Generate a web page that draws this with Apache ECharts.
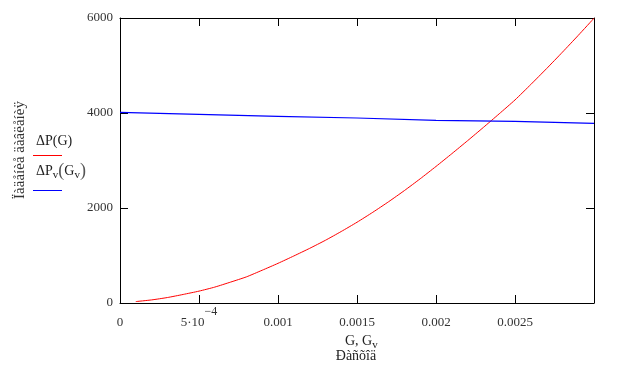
<!DOCTYPE html>
<html>
<head>
<meta charset="utf-8">
<script src="https://cdn.jsdelivr.net/npm/echarts@6/dist/echarts.min.js"></script>
<style>html,body{margin:0;padding:0;background:#fff}#c{width:628px;height:369px}</style>
</head>
<body>
<div id="c"></div>
<script>
// Flow G (x) and pressure drop values
var gRed = [0.0001,0.0002,0.0003,0.0004,0.0005,0.0006,0.0007,0.0008,0.0009,0.001,0.0011,0.0012,0.0013,0.0014,0.0015,0.0016,0.0017,0.0018,0.0019,0.002,0.0021,0.0022,0.0023,0.0024,0.0025,0.0026,0.0027,0.0028,0.0029,0.003];
var dP = [30,65,115,180,250,335,440,550,690,835,990,1150,1320,1505,1700,1910,2132,2367,2615,2875,3143,3417,3697,3983,4275,4600,4935,5280,5633,5995];
var gBlue = [0,0.0005,0.001,0.0015,0.002,0.0025,0.003];
var dPv = [4015,3973,3931,3895,3846,3825,3783];
var xTickLabels = ['0','5·10^-4','0.001','0.0015','0.002','0.0025',''];
var yTickLabels = ['0','2000','4000','6000'];

var FONT = '"Liberation Serif", "DejaVu Serif", serif';
var chart = echarts.init(document.getElementById('c'), null, {renderer:'canvas'});
function pairs(xs, ys){ return xs.map(function(x,i){return [x, ys[i]];}); }
var axisLine = {show:true, onZero:false, lineStyle:{color:'#000', width:1}};
var tick = {show:true, inside:true, length:8, lineStyle:{color:'#000', width:1}};
chart.setOption({
  animation:false,
  grid:{left:120, right:34, top:18, bottom:66},
  xAxis:[{
    type:'value', min:0, max:0.003, interval:0.0005, position:'bottom',
    axisLine:axisLine, axisTick:tick, splitLine:{show:false},
    axisLabel:{
      margin:3,
      formatter:function(v){
        var i = Math.round(v/0.0005);
        var s = xTickLabels[i] || '';
        if (s.indexOf('^') >= 0) { var p = s.split('^'); return '{a|' + p[0] + '}{sup|' + p[1].replace('-','\u2212') + '}'; }
        return '{a|' + s + '}';
      },
      rich:{
        a:{fontFamily:FONT, fontSize:13, color:'#333', lineHeight:23, verticalAlign:'bottom'},
        sup:{fontFamily:FONT, fontSize:12, color:'#333', lineHeight:23, verticalAlign:'top'}
      }
    }
  },{
    type:'value', min:0, max:0.003, interval:0.0005, position:'top',
    axisLine:axisLine, axisTick:tick, axisLabel:{show:false}, splitLine:{show:false}
  }],
  yAxis:[{
    type:'value', min:0, max:6000, interval:2000, position:'left',
    axisLine:axisLine, axisTick:tick, splitLine:{show:false},
    axisLabel:{margin:7, color:'#333', fontFamily:FONT, fontSize:13,
      formatter:function(v){ return yTickLabels[Math.round(v/2000)]; }}
  },{
    type:'value', min:0, max:6000, interval:2000, position:'right',
    axisLine:axisLine, axisTick:tick, axisLabel:{show:false}, splitLine:{show:false}
  }],
  series:[{
    name:'ΔP(G)', type:'line', data:pairs(gRed, dP), showSymbol:false, smooth:0.2,
    lineStyle:{color:'#ff0000', width:1}, itemStyle:{color:'#ff0000'}
  },{
    name:'ΔPv(Gv)', type:'line', data:pairs(gBlue, dPv), showSymbol:false,
    lineStyle:{color:'#0000ff', width:1.2}, itemStyle:{color:'#0000ff'}
  }],
  graphic:[
    {type:'text', x:20, y:150, rotation:Math.PI/2, style:{text:'Ïàäåíèå äàâëåíèÿ', font:'15px '+FONT, fill:'#333', align:'center', verticalAlign:'middle'}},
    {type:'text', x:36, y:134, style:{text:'ΔP(G)', font:'14px '+FONT, fill:'#222'}},
    {type:'line', shape:{x1:33, y1:155.5, x2:62, y2:155.5}, style:{stroke:'#ff0000', lineWidth:1}},
    {type:'text', x:36, y:162, style:{text:'{a|ΔP}{s|v}{p|(}{a|G}{s|v}{p|)}', rich:{
      a:{fontFamily:FONT, fontSize:14, fill:'#222'},
      s:{fontFamily:FONT, fontSize:11, fill:'#222', padding:[8,0,0,0]},
      p:{fontFamily:FONT, fontSize:18, fill:'#555'}}}},
    {type:'line', shape:{x1:33, y1:190.5, x2:62, y2:190.5}, style:{stroke:'#0000ff', lineWidth:1}},
    {type:'text', x:345, y:332, style:{text:'{a|G, G}{s|v}', rich:{
      a:{fontFamily:FONT, fontSize:14, fill:'#222'},
      s:{fontFamily:FONT, fontSize:11, fill:'#222', padding:[8,0,0,0]}}}},
    {type:'text', x:356, y:356, style:{text:'Ðàñõîä', font:'14px '+FONT, fill:'#222', align:'center', verticalAlign:'middle'}}
  ]
});
</script>
</body>
</html>
